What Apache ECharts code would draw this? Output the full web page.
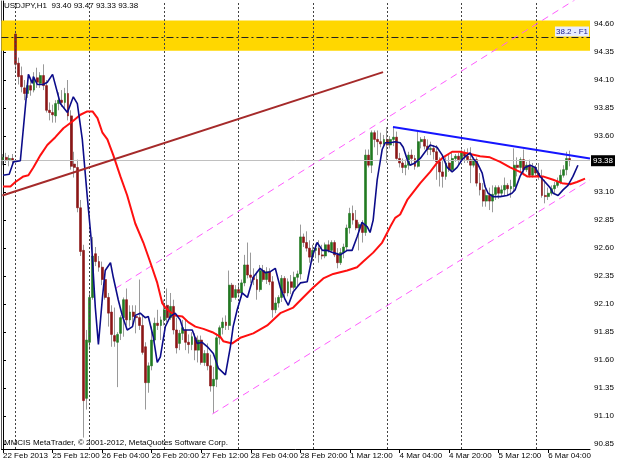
<!DOCTYPE html>
<html><head><meta charset="utf-8">
<script src="https://cdn.jsdelivr.net/npm/echarts@6/dist/echarts.min.js"></script>
<style>html,body{margin:0;padding:0;background:#fff}#c{width:620px;height:465px}</style>
</head><body><div id="c"></div>
<script>
// ---- data (USDJPY H1) ----
const openP = [93.39,93.41,93.39,93.40,94.51,94.25,94.14,94.03,93.98,94.05,94.01,94.12,94.07,94.14,94.05,93.83,93.81,93.78,93.89,93.92,
93.90,93.98,93.78,93.35,93.32,92.96,92.58,91.26,91.76,92.16,92.55,92.48,92.43,92.32,92.16,92.03,91.82,91.76,91.84,91.98,
92.14,91.96,92.03,91.99,91.98,91.91,91.72,91.40,91.55,91.78,91.93,91.91,91.96,92.09,91.98,92.08,91.87,91.75,91.84,91.87,
91.76,91.74,91.80,91.69,91.78,91.58,91.66,91.55,91.37,91.43,91.80,91.89,91.94,91.91,92.27,92.16,92.23,92.20,92.29,92.45,
92.36,92.34,92.32,92.23,92.40,92.32,92.39,92.30,92.05,92.11,92.16,92.33,92.20,92.30,92.25,92.34,92.37,92.70,92.65,92.60,
92.52,92.58,92.60,92.54,92.53,92.63,92.58,92.65,92.54,92.47,92.56,92.61,92.78,92.91,92.85,92.78,92.81,92.74,93.43,93.34,
93.63,93.57,93.55,93.53,93.57,93.52,93.57,93.59,93.40,93.36,93.32,93.34,93.43,93.40,93.33,93.55,93.57,93.51,93.48,93.49,
93.46,93.37,93.28,93.24,93.36,93.30,93.40,93.42,93.39,93.45,93.42,93.39,93.34,93.39,93.18,93.12,93.02,93.07,93.02,93.08,
93.14,93.09,93.12,93.16,93.13,93.15,93.34,93.32,93.39,93.30,93.34,93.25,93.32,93.27,93.24,93.07,93.06,93.09,93.13,93.16,
93.19,93.25,93.30,93.40];
const highP = [93.44,93.45,93.43,93.44,94.54,94.30,94.22,94.10,94.10,94.12,94.17,94.21,94.17,94.24,94.10,93.90,93.88,93.92,93.99,94.01,
94.03,94.10,93.83,93.46,93.39,93.03,92.63,91.87,92.21,92.70,92.61,92.53,92.48,92.36,92.20,92.09,92.07,91.85,92.00,92.16,
92.24,92.09,92.09,92.09,92.32,92.00,91.76,91.58,91.90,91.98,92.05,91.99,92.14,92.24,92.20,92.14,91.98,91.87,91.96,91.96,
91.83,91.85,91.84,91.82,91.82,91.69,91.75,91.65,91.54,91.84,91.91,91.98,92.00,92.40,92.29,92.27,92.29,92.32,92.54,92.65,
92.56,92.42,92.39,92.45,92.45,92.43,92.42,92.35,92.16,92.18,92.36,92.35,92.33,92.36,92.39,92.40,92.81,92.73,92.75,92.67,
92.63,92.64,92.67,92.63,92.65,92.67,92.67,92.67,92.60,92.60,92.64,92.81,92.96,92.98,92.94,92.83,92.85,93.48,93.48,93.65,
93.65,93.65,93.63,93.61,93.68,93.60,93.68,93.64,93.45,93.40,93.39,93.46,93.48,93.43,93.64,93.59,93.60,93.57,93.55,93.52,
93.52,93.41,93.39,93.41,93.43,93.45,93.44,93.45,93.48,93.48,93.49,93.50,93.41,93.41,93.27,93.18,93.16,93.14,93.16,93.16,
93.16,93.16,93.23,93.18,93.21,93.49,93.41,93.41,93.48,93.37,93.39,93.36,93.34,93.36,93.30,93.21,93.14,93.16,93.19,93.23,
93.30,93.34,93.46,93.47];
const lowP = [93.34,93.36,93.33,93.34,94.17,94.06,93.99,93.92,93.94,93.96,93.99,94.03,94.03,94.01,93.81,93.74,93.72,93.72,93.83,93.86,
93.85,93.74,93.30,93.23,92.92,92.53,90.91,91.16,91.69,92.14,92.44,92.39,92.27,92.14,91.90,91.72,91.72,91.36,91.78,91.81,
91.91,91.90,91.91,91.84,91.87,91.65,91.16,91.31,91.51,91.76,91.87,91.78,91.91,91.94,91.96,91.83,91.66,91.69,91.78,91.69,
91.66,91.69,91.60,91.58,91.56,91.55,91.51,91.32,91.13,91.36,91.74,91.83,91.87,91.87,92.12,92.14,92.16,92.16,92.26,92.33,
92.29,92.27,92.14,92.21,92.30,92.28,92.27,91.98,92.02,92.07,92.12,92.16,92.17,92.19,92.23,92.26,92.32,92.61,92.57,92.47,
92.48,92.51,92.47,92.50,92.51,92.56,92.57,92.52,92.42,92.45,92.51,92.58,92.73,92.81,92.76,92.58,92.65,92.71,93.32,93.27,
93.50,93.43,93.50,93.51,93.36,93.49,93.51,93.39,93.32,93.27,93.25,93.30,93.34,93.30,93.32,93.49,93.48,93.43,93.43,93.39,
93.21,93.15,93.14,93.21,93.28,93.28,93.37,93.34,93.37,93.36,93.36,93.18,93.32,93.15,93.07,92.97,92.97,92.94,92.92,93.03,
93.04,93.06,93.07,93.07,93.05,93.10,93.24,93.28,93.25,93.28,93.23,93.23,93.24,93.21,93.05,93.00,93.03,93.07,93.09,93.14,
93.17,93.23,93.25,93.33];
const closeP = [93.41,93.39,93.40,93.38,94.24,94.13,94.04,93.98,94.05,94.01,94.12,94.08,94.14,94.05,93.83,93.81,93.79,93.89,93.92,93.90,
93.98,93.78,93.33,93.32,92.96,92.57,91.24,91.78,92.16,92.53,92.48,92.43,92.32,92.16,92.02,91.83,91.77,91.83,91.98,92.14,
91.96,92.03,91.99,91.98,91.91,91.67,91.40,91.55,91.78,91.93,91.91,91.96,92.05,91.98,92.08,91.87,91.71,91.84,91.89,91.76,
91.74,91.81,91.69,91.78,91.58,91.66,91.55,91.37,91.43,91.80,91.89,91.94,91.91,92.27,92.16,92.23,92.20,92.29,92.45,92.36,
92.34,92.32,92.23,92.40,92.32,92.39,92.30,92.05,92.11,92.16,92.33,92.20,92.30,92.25,92.34,92.37,92.70,92.65,92.60,92.52,
92.58,92.60,92.54,92.53,92.63,92.58,92.65,92.54,92.47,92.56,92.61,92.78,92.91,92.85,92.78,92.81,92.74,93.43,93.34,93.63,
93.57,93.55,93.53,93.57,93.52,93.57,93.59,93.40,93.36,93.32,93.34,93.43,93.40,93.33,93.55,93.57,93.51,93.48,93.49,93.46,
93.37,93.28,93.24,93.36,93.30,93.40,93.42,93.39,93.45,93.42,93.39,93.34,93.39,93.18,93.12,93.02,93.07,93.02,93.08,93.14,
93.09,93.12,93.16,93.13,93.15,93.34,93.32,93.39,93.30,93.34,93.25,93.32,93.27,93.24,93.07,93.06,93.09,93.13,93.16,93.19,
93.25,93.30,93.40,93.38];

// fast MA (blue): bar position / price
const blueX = [0,2,3.4,5.6,8.2,9.5,9.8,11.1,13,14.3,16,18.5,20.8,22.7,24,25.6,27.2,28.5,28.9,29.8,30.8,32.1,33,34.7,35.6,37.2,38.5,40.1,41.8,42.7,44.3,45.9,46.9,48.5,49.8,50.8,52.4,54,55.6,57.2,58.2,61.1,62.7,64.3,66,67.9,69.5,71.8,73.4,74.3,75.6,77.2,78.9,80.8,83,84.7,86.3,87.9,89.5,91.1,92.1,93.7,96,98.2,99.8,101.4,103.1,104.7,106.6,108.9,111.1,112.7,114.3,115.9,117.6,118.5,119.5,120.8,122.4,123.4,125,126.6,128.2,129.2,130.5,131.4,133,134.7,136.3,137.9,140.1,141.8,143.4,145,146.6,148.2,149.8,150.8,151.8,153.1,154.7,155.6,156.6,158.2,160.5,162.7,164.3,165.3,166.9,168.5,170.2,171.8,173.4,175,176.6,177.6,179.2,180.8,182.4,184,185.6];
const blueY = [93.25,93.26,93.37,93.38,94.15,94.07,94.13,94.06,94.06,94.08,94.15,93.89,93.81,93.95,93.89,93.57,93.06,92.67,92.49,92.07,91.74,92.16,92.40,92.47,92.34,92.14,92.00,91.87,91.90,92.00,92.02,91.98,91.99,91.81,91.58,91.63,91.90,91.99,92.02,91.96,91.87,91.87,91.75,91.76,91.72,91.66,91.53,91.47,91.72,91.90,92.05,92.20,92.16,92.34,92.42,92.38,92.39,92.42,92.25,92.14,92.09,92.21,92.29,92.30,92.52,92.65,92.58,92.58,92.56,92.54,92.58,92.58,92.70,92.83,92.79,92.74,92.85,93.21,93.48,93.54,93.54,93.55,93.54,93.50,93.39,93.34,93.36,93.40,93.46,93.52,93.50,93.43,93.32,93.28,93.32,93.39,93.43,93.45,93.40,93.36,93.27,93.15,93.09,93.06,93.06,93.07,93.09,93.12,93.24,93.32,93.34,93.32,93.24,93.19,93.14,93.09,93.07,93.12,93.16,93.24,93.34];
// slow MA (red)
const redX = [0,2.4,4,6.6,8.2,9.8,12.1,14.3,16.9,19.5,22.4,25,27.2,28.9,30.5,32.1,33.7,35.6,37.9,40.1,42.7,45.3,47.6,49.8,51.4,52.4,54,55.6,57.9,59.8,62.1,64.7,67.6,70.1,71.1,74,76.6,80.8,85.3,89.5,93.7,96.9,99.8,103.4,106.6,111.1,114.3,116.3,119.5,122.4,125,126.6,128.2,130.5,134.7,137.9,140.1,142.1,145,147.6,150.8,154,157.2,160.5,163.7,166.9,169.2,172.4,174.3,177.6,180.5,183.1,185.3,187.9];
const redY = [93.15,93.15,93.19,93.24,93.25,93.32,93.43,93.52,93.59,93.67,93.73,93.79,93.82,93.82,93.76,93.63,93.57,93.43,93.24,93.07,92.82,92.65,92.47,92.29,92.11,92.07,92.03,92.00,91.99,91.94,91.90,91.88,91.85,91.81,91.77,91.75,91.80,91.84,91.91,92.02,92.07,92.16,92.24,92.33,92.37,92.40,92.43,92.48,92.56,92.65,92.79,92.87,92.90,93.03,93.18,93.28,93.36,93.41,93.46,93.46,93.44,93.42,93.41,93.37,93.32,93.28,93.24,93.24,93.24,93.21,93.18,93.17,93.19,93.22];

// drawn objects (bar position / price of the two anchor points)
const brownLineX = [-0.2, 122.7], brownLineY = [93.07, 94.17];
const blueLineX = [125.9, 189.5], blueLineY = [93.68, 93.40];
const chanUpX = [36.3, 189.5], chanUpY = [92.24, 94.90];
const chanLoX = [67.6, 189.5], chanLoY = [91.12, 93.21];
const fibBand = [94.362, 94.631];
const fibLevel = 94.478, fibText = '38.2 - F1';
const lastPrice = 93.38;

// axes
const priceTicks = [90.85,91.10,91.35,91.60,91.85,92.10,92.35,92.60,92.85,93.10,93.35,93.60,93.85,94.10,94.35,94.60];
const timeLabels = ['22 Feb 2013','25 Feb 12:00','26 Feb 04:00','26 Feb 20:00','27 Feb 12:00','28 Feb 04:00','28 Feb 20:00','1 Mar 12:00','4 Mar 04:00','4 Mar 20:00','5 Mar 12:00','6 Mar 04:00'];
const timeLabelBars = [0,16,32,48,64,80,96,112,128,144,160,176];
const daySeparatorBars = [4,28,52,76,100,124,148,172];
const emptyBarsRight = 6;

// ---- build ----
const n = openP.length;
const nCat = n + emptyBarsRight;
const cats = [];
for (let i = 0; i < nCat; i++) cats.push('b' + i);
const wickData = [], bodyData = [];
for (let i = 0; i < n; i++) {
  const o = openP[i], c = closeP[i];
  const h = Math.max(highP[i], o, c), l = Math.min(lowP[i], o, c);
  wickData.push([o, c, l, h]);
  bodyData.push([o, c, Math.min(o, c), Math.max(o, c)]);
}
const zip = (xs, ys) => xs.map((x, k) => [x, ys[k]]);
const FONT = 'Liberation Sans, Arial, sans-serif';
const bull = '#217a21', bear = '#8b1616', wick = '#9a9a9a';
const yMin = 90.808, yMax = 94.805;
const isLabelBar = (idx) => timeLabelBars.indexOf(idx) >= 0;

const lineSeries = (name, xs, ys, color, width, type, z) => ({
  name, type: 'line', xAxisIndex: 1, yAxisIndex: 0, data: zip(xs, ys),
  symbol: 'none', silent: true, z, animation: false, clip: true,
  lineStyle: { color, width, type: type || 'solid' }
});

const last = n - 1;
const option = {
  animation: false,
  backgroundColor: '#fff',
  title: [
    { text: 'USDJPY,H1  ' + [openP[last], highP[last], lowP[last], closeP[last]].map(v => v.toFixed(2)).join(' '),
      left: 4, top: 2, padding: 0,
      textStyle: { fontSize: 8, fontWeight: 'normal', color: '#000', fontFamily: FONT } },
    { text: 'MMCIS MetaTrader, © 2001-2012, MetaQuotes Software Corp.',
      left: 4, top: 439, padding: 0,
      textStyle: { fontSize: 8, fontWeight: 'normal', color: '#000', fontFamily: FONT } }
  ],
  grid: { left: 1, right: 30, top: 1, bottom: 16, containLabel: false },
  xAxis: [
    { type: 'category', data: cats, boundaryGap: true,
      axisLine: { show: true, lineStyle: { color: '#000', width: 1 } },
      axisTick: { show: true, interval: isLabelBar, alignWithLabel: true, length: 4, lineStyle: { color: '#000' } },
      axisLabel: { interval: isLabelBar, align: 'left', margin: 3, fontSize: 8, color: '#000', fontFamily: FONT,
        formatter: (v, idx) => timeLabels[timeLabelBars.indexOf(idx)] || '' },
      splitLine: { show: false } },
    { type: 'value', min: -0.5, max: nCat - 0.5, show: false }
  ],
  yAxis: [
    { type: 'value', position: 'right', min: yMin, max: yMax, scale: true,
      axisLine: { show: true, lineStyle: { color: '#000', width: 1 } },
      axisTick: { show: true, length: 3, customValues: priceTicks, lineStyle: { color: '#000' } },
      axisLabel: { customValues: priceTicks, margin: 4, fontSize: 8, color: '#000', fontFamily: FONT,
        formatter: v => v.toFixed(2) },
      splitLine: { show: false } },
    { type: 'value', position: 'left', min: yMin, max: yMax,
      axisLine: { show: true, lineStyle: { color: '#555', width: 1 } },
      axisTick: { show: false }, axisLabel: { show: false }, splitLine: { show: false } }
  ],
  series: [
    { name: 'fibBand', type: 'line', xAxisIndex: 1, yAxisIndex: 0, data: [], z: 1, silent: true,
      markArea: { silent: true, itemStyle: { color: '#ffd700', opacity: 1 },
        data: [[{ yAxis: fibBand[0] }, { yAxis: fibBand[1] }]] } },
    { name: 'levels', type: 'line', xAxisIndex: 1, yAxisIndex: 0, data: [], z: 2, silent: true,
      markLine: { silent: true, symbol: 'none', animation: false,
        data: [
          ...daySeparatorBars.map(b => ({ xAxis: b, lineStyle: { color: '#444', width: 1, type: [2, 2] }, label: { show: false } })),
          { yAxis: lastPrice, lineStyle: { color: '#c0c0c0', width: 1, type: 'solid' },
            label: { show: true, position: 'end', distance: 1, formatter: lastPrice.toFixed(2), color: '#fff',
              backgroundColor: '#000', padding: [2, 2, 1, 2], fontSize: 8, fontFamily: FONT } },
          { yAxis: fibLevel, lineStyle: { color: '#222', width: 1, type: [7, 3, 2, 3] },
            label: { show: true, position: 'insideEndTop', distance: 1, formatter: fibText, color: '#1a1a8c',
              backgroundColor: '#e8ecff', padding: [1, 1], fontSize: 8, fontFamily: FONT } }
        ] } },
    { name: 'wicks', type: 'candlestick', xAxisIndex: 0, yAxisIndex: 0, data: wickData, barWidth: 1, z: 3, silent: true,
      itemStyle: { color: wick, color0: wick, borderColor: wick, borderColor0: wick, borderWidth: 1 } },
    { name: 'bodies', type: 'candlestick', xAxisIndex: 0, yAxisIndex: 0, data: bodyData, barWidth: 2.4, z: 4, silent: true,
      itemStyle: { color: bull, color0: bear, borderColor: bull, borderColor0: bear, borderWidth: 0.6 } },
    lineSeries('chanUp', chanUpX, chanUpY, '#ff5cff', 1, [7, 5], 5),
    lineSeries('chanLo', chanLoX, chanLoY, '#ff5cff', 1, [7, 5], 5),
    lineSeries('slowMA', redX, redY, '#ff1010', 2, null, 6),
    lineSeries('fastMA', blueX, blueY, '#0c0c8a', 1.6, null, 7),
    lineSeries('brownTrend', brownLineX, brownLineY, '#a52a2a', 2, null, 8),
    lineSeries('blueTrend', blueLineX, blueLineY, '#1515ff', 2, null, 8)
  ]
};
const chart = echarts.init(document.getElementById('c'), null, { renderer: 'canvas' });
chart.setOption(option);
</script>
</body></html>
